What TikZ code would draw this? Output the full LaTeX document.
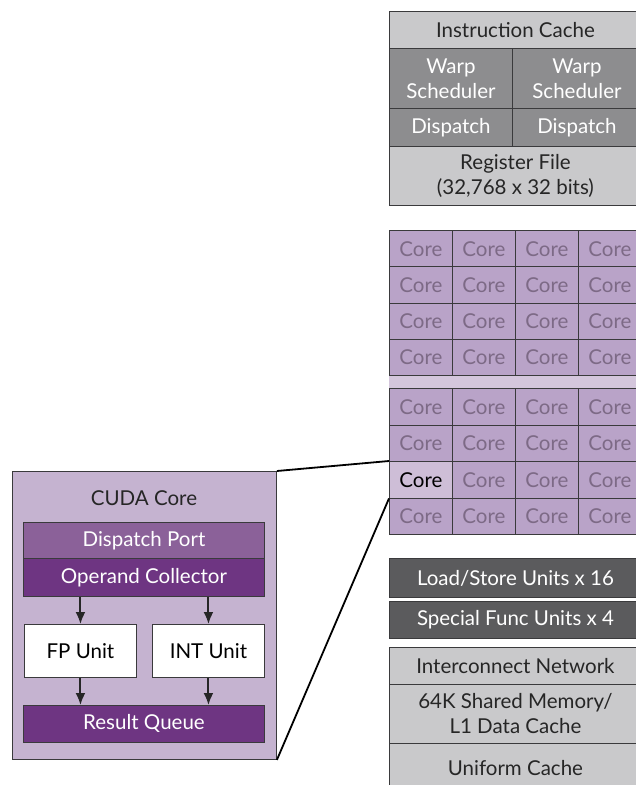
\documentclass[tikz,border=0pt]{standalone}
\usepackage{fontspec}
\setmainfont{Lato}
\usepackage{tikz}
\usetikzlibrary{arrows.meta}
\definecolor{lgray}{HTML}{C9C9CB}
\definecolor{mgray}{HTML}{8D8D8F}
\definecolor{dgray}{HTML}{5B5B5D}
\definecolor{edge}{HTML}{3A3A3C}
\definecolor{corefill}{HTML}{B9A3C8}
\definecolor{coretext}{HTML}{7D6A86}
\definecolor{bandfill}{HTML}{D4C6DC}
\definecolor{cudafill}{HTML}{C5B3D0}
\definecolor{portfill}{HTML}{8B6199}
\definecolor{darkpurple}{HTML}{6E3582}
\tikzstyle{blk}=[draw=edge,line width=0.9pt,anchor=north west,inner sep=0pt,align=center,font=\fontsize{20.5}{25}\selectfont]
\tikzstyle{light}=[fill=lgray,text=black!85]
\tikzstyle{dark}=[fill=mgray,text=white]
\tikzstyle{darker}=[fill=dgray,text=white]
\tikzstyle{corecell}=[blk,fill=corefill,text=coretext,minimum width=63pt,minimum height=36.5pt]
\tikzstyle{purple}=[fill=darkpurple,text=white]
\tikzstyle{flow}=[-{Latex[length=12pt,width=10pt]},line width=2pt,black!85]
\tikzstyle{zoomline}=[black,line width=1.8pt]

\begin{document}
\begin{tikzpicture}[x=1pt,y=-1pt]
\useasboundingbox (0,0) rectangle (636,785);
% instruction side
\node [blk,light,minimum width=252pt,minimum height=37pt] (icache) at (389,11) {Instruction Cache};
\node [blk,dark,minimum width=123pt,minimum height=60pt] (warpA) at (389,48) {Warp\\Scheduler};
\node [blk,dark,minimum width=129pt,minimum height=60pt] (warpB) at (512,48) {Warp\\Scheduler};
\node [blk,dark,minimum width=123pt,minimum height=38pt] (dispA) at (389,108) {Dispatch};
\node [blk,dark,minimum width=129pt,minimum height=38pt] (dispB) at (512,108) {Dispatch};
\node [blk,light,minimum width=252pt,minimum height=59pt] (regfile) at (389,146) {Register File\\(32,768 x 32 bits)};
% cores
\fill [bandfill] (389,375) rectangle (641,388);
\foreach \r in {1,...,4} {
  \foreach \c in {1,...,4} {
    \node [corecell] (core-\r-\c) at (389+63*\c-63,230+36.25*\r-36.25) {Core};
  }
}
\foreach \r in {5,...,8} {
  \foreach \c in {1,...,4} {
    \node [corecell] (core-\r-\c) at (389+63*\c-63,388+36.5*\r-182.5) {Core};
  }
}
\node [corecell,fill=cudafill!85!white,text=black] (core-7-1) at (389,461) {Core};
% units and memory
\node [blk,darker,minimum width=252pt,minimum height=39pt] (ldst) at (389,558) {Load/Store Units x 16};
\node [blk,darker,minimum width=252pt,minimum height=37pt] (sfu) at (389,601) {Special Func Units x 4};
\node [blk,light,minimum width=252pt,minimum height=37pt] (icnet) at (389,647) {Interconnect Network};
\node [blk,light,minimum width=252pt,minimum height=59pt] (shmem) at (389,684) {64K Shared Memory/\\L1 Data Cache};
\node [blk,light,minimum width=252pt,minimum height=50pt] (ucache) at (389,743) {Uniform Cache};
% cuda core detail
\node [blk,fill=cudafill,minimum width=264pt,minimum height=288pt] (cuda) at (12,471) {};
\node [text=black!85,font=\fontsize{20.5}{25}\selectfont] (title) at (144,498) {CUDA Core};
\node [blk,fill=portfill,text=white,minimum width=241pt,minimum height=36pt] (dport) at (23,522) {Dispatch Port};
\node [blk,purple,minimum width=241pt,minimum height=38pt] (opcoll) at (23,558) {Operand Collector};
\node [blk,fill=white,text=black,minimum width=112pt,minimum height=53pt] (fpu) at (24,624) {FP Unit};
\node [blk,fill=white,text=black,minimum width=112pt,minimum height=53pt] (intu) at (152,624) {INT Unit};
\node [blk,purple,minimum width=241pt,minimum height=37pt] (rqueue) at (23,705) {Result Queue};
\draw [flow] (opcoll.south -| fpu) -- (fpu);
\draw [flow] (opcoll.south -| intu) -- (intu);
\draw [flow] (fpu) -- (rqueue.north -| fpu);
\draw [flow] (intu) -- (rqueue.north -| intu);
% zoom
\draw [zoomline] (cuda.north east) -- (core-7-1.north west);
\draw [zoomline] (cuda.south east) -- (core-7-1.south west);
\end{tikzpicture}
\end{document}
